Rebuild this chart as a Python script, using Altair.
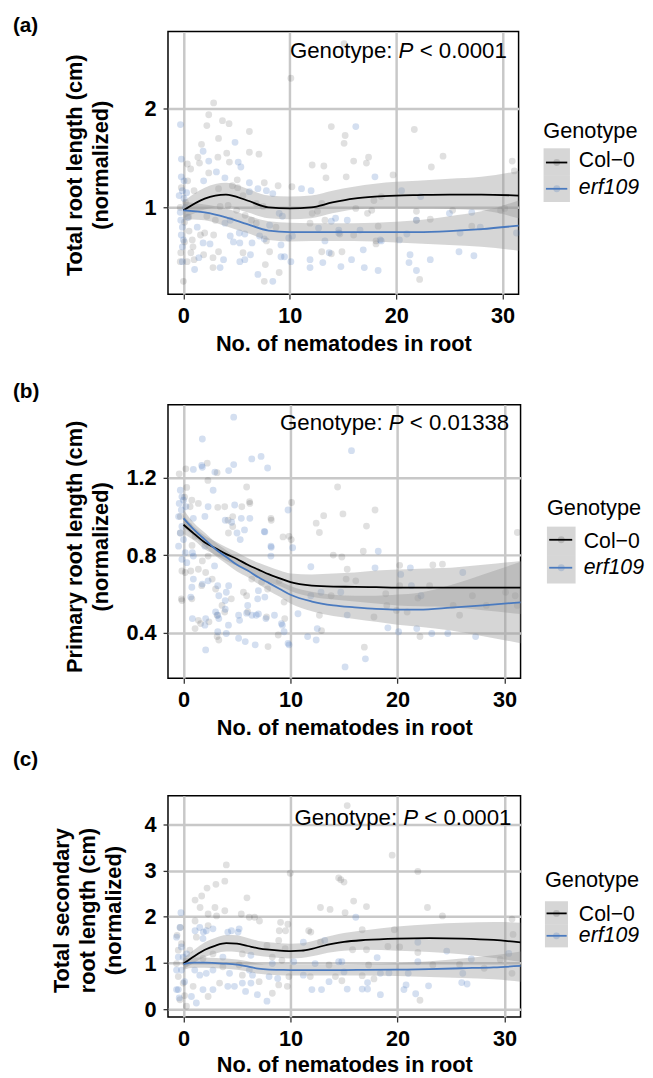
import altair as alt
import pandas as pd

FONT = "Liberation Sans"
BLACK = "#000000"
BLUE = "#4a7abf"
BAND = "#999999"

GENOTYPES = ["Col\u22120", "erf109"]
X_TICKS = [0, 10, 20, 30]
X_TITLE = "No. of nematodes in root"

# ---------------- Panel (a) : total root length ----------------
a_col0_pts = [(10.1,2.31),(2.84,2.06),(2.38,1.94),(3.67,1.88),(4.29,1.85),(2.2,1.83),(15.1,2.66),(13.9,1.82),(15.2,1.73),(15.1,1.65),(21.7,1.79),(24.4,1.52),(23.3,1.41),(17.4,1.51),(17.2,1.45),(16.0,1.47),(12.1,1.43),(13.2,1.42),(13.4,1.30),(15.3,1.31),(19.7,1.33),(30.9,1.47),(31.1,1.37),(21.9,0.87),(23.2,0.88),(29.8,0.97),(14.9,0.55),(13.9,0.53),(22.2,0.27),(18.1,0.66),(18.3,0.81),(3.3,1.70),(6.2,1.77),(1.7,1.64),(1.36,1.51),(1.51,1.45),(3.24,1.51),(4.07,1.55),(4.32,1.46),(6.2,1.56),(7.1,1.54),(0.37,1.44),(0.68,1.39),(2.38,1.35),(5.06,1.28),(7.6,1.25),(8.9,1.22),(10.2,1.21),(1.0,1.17),(0.53,0.76),(1.6,0.72),(2.0,0.74),(0.83,0.67),(0.9,0.6),(2.84,0.72),(7.8,0.66),(-0.25,0.54),(-0.3,0.45),(0.7,0.54),(0.35,0.45),(1.0,0.47),(1.9,0.52),(2.78,0.49),(3.3,0.55),(2.78,0.39),(5.6,0.54),(7.7,0.42),(7.6,0.25),(8.1,0.55),(9.0,0.34),(0.0,0.25),(13.0,0.55),(3.3,1.19),(4.6,1.22),(5.1,1.2),(5.6,1.12),(3.45,1.01),(4.2,1.02),(5.0,0.97),(2.2,0.91),(3.0,0.87),(5.8,0.92),(6.4,0.87),(6.85,0.84),(8.7,0.8),(12.1,0.94),(12.6,0.96),(13.0,1.04),(11.9,0.84),(13.3,0.87),(14.7,0.73),(17.9,1.07),(18.6,1.11),(16.2,0.99),(17.7,0.97),(21.9,0.96),(25.3,0.97),(30.2,0.99),(16.0,0.72),(17.3,0.94),(18.1,0.63),(27.1,0.81),(6.85,1.04),(7.5,1.01),(0.2,1.05),(-0.3,1.0),(0.5,0.9),(0.1,0.85),(-0.2,1.2),(0.4,1.27),(0.1,0.65)]
a_erf_pts = [(-0.28,1.84),(16.2,1.82),(18.0,1.31),(11.1,1.19),(12.0,1.17),(20.5,1.17),(22.3,1.11),(15.4,0.87),(13.9,0.86),(25.0,0.94),(27.1,0.95),(16.9,0.57),(13.1,0.44),(11.9,0.47),(11.9,0.39),(14.8,0.40),(15.8,0.47),(17.0,0.39),(18.3,0.36),(21.3,0.52),(21.2,0.44),(21.9,0.36),(23.2,0.47),(25.9,0.55),(27.3,0.51),(18.5,0.67),(20.3,0.67),(31.3,0.74),(4.85,1.66),(1.85,1.57),(2.38,1.47),(5.15,1.46),(5.4,1.41),(-0.19,1.49),(-0.2,1.31),(0.06,1.27),(3.1,1.36),(3.9,1.30),(6.2,1.25),(1.9,1.27),(-0.1,1.17),(-0.4,1.12),(0.06,1.09),(-0.25,0.87),(-0.1,0.8),(1.3,0.8),(0.0,0.67),(-0.1,0.6),(1.85,0.64),(2.5,0.63),(4.4,0.71),(4.7,0.65),(5.3,0.64),(5.25,0.74),(5.77,0.73),(6.45,0.64),(7.16,0.71),(7.6,0.68),(9.17,0.62),(-0.1,0.45),(1.45,0.49),(1.05,0.37),(3.45,0.39),(3.77,0.47),(5.3,0.45),(5.77,0.47),(6.3,0.52),(7.0,0.32),(8.4,0.25),(9.17,0.5),(9.5,0.5),(10.1,0.45),(13.7,0.54),(14.6,0.74),(13.3,0.66),(6.2,1.16),(7.0,1.19),(7.8,1.17),(8.4,1.14),(9.0,0.94),(9.3,0.91),(3.9,0.84),(4.4,0.87),(8.1,0.82),(9.9,0.69),(10.25,0.71),(12.7,0.79),(14.3,0.89),(21.9,0.87),(14.6,0.77),(16.6,0.77),(18.6,0.66),(21.0,0.73),(26.0,0.74),(27.9,0.80),(0.2,1.0),(-0.3,0.95),(0.3,1.15),(-0.2,0.72),(0.4,0.9)]
a_fit_x    = [0, 2, 4, 6, 8, 10, 12, 14, 16, 18, 20, 22, 25, 28, 31.5]
a_col0_fit = [0.97, 1.09, 1.13, 1.07, 1.00, 0.99, 1.00, 1.05, 1.09, 1.11, 1.12, 1.125, 1.13, 1.13, 1.12]
a_col0_lo  = [0.89, 0.98, 1.01, 0.95, 0.89, 0.88, 0.89, 0.94, 0.98, 0.99, 0.99, 0.99, 0.985, 0.97, 0.89]
a_col0_hi  = [1.06, 1.20, 1.25, 1.19, 1.12, 1.11, 1.12, 1.17, 1.21, 1.24, 1.26, 1.27, 1.29, 1.31, 1.37]
a_erf_fit  = [0.97, 0.95, 0.90, 0.83, 0.765, 0.75, 0.75, 0.75, 0.75, 0.75, 0.75, 0.75, 0.76, 0.78, 0.815]
a_erf_lo   = [0.88, 0.87, 0.81, 0.74, 0.67, 0.655, 0.66, 0.66, 0.66, 0.655, 0.645, 0.635, 0.62, 0.60, 0.56]
a_erf_hi   = [1.06, 1.03, 0.99, 0.92, 0.86, 0.845, 0.84, 0.84, 0.84, 0.845, 0.855, 0.87, 0.91, 0.96, 1.07]

# ---------------- Panel (b) : primary root length ----------------
b_col0_pts = [(2.22,1.275),(-0.4,1.22),(0.22,1.246),(3.14,1.226),(2.28,1.186),(5.9,1.152),(10.1,1.072),(8.2,0.98),(9.3,0.894),(10.07,0.88),(4.2,0.914),(6.2,1.067),(5.45,1.05),(1.76,0.77),(-0.15,0.718),(0.68,0.718),(-0.15,0.565),(1.6,0.446),(2.38,0.455),(3.14,0.489),(3.14,0.379),(3.3,0.361),(7.9,0.327),(7.76,0.48),(9.46,0.472),(8.85,0.387),(5.6,0.608),(5.9,0.59),(3.0,0.625),(3.6,0.54),(2.07,0.71),(2.68,0.676),(6.38,0.676),(7.3,0.66),(14.4,1.152),(13.1,1.004),(12.4,0.965),(12.7,0.917),(14.9,1.013),(17.9,1.033),(17.1,0.95),(14.0,0.80),(14.8,0.79),(16.8,0.82),(20.2,0.747),(23.3,0.749),(24.2,0.753),(31.2,0.917),(12.7,0.489),(12.9,0.41),(16.9,0.324),(22.1,0.379),(19.0,0.54),(19.9,0.514),(20.9,0.506),(17.8,0.48),(13.8,0.59),(15.3,0.727),(16.1,0.667),(15.2,0.676),(18.9,0.60),(21.9,0.578),(23.0,0.642),(25.2,0.54),(25.8,0.489),(27.0,0.59),(28.3,0.54),(30.1,0.608),(31.0,0.59),(31.2,0.54),(20.2,0.642),(0.78,1.084),(0.62,1.05),(-0.3,0.914),(0.16,0.71),(-0.2,0.574),(0.78,0.574),(3.85,1.05),(4.6,0.999),(1.39,1.067),(3.2,1.047),(4.16,0.98),(8.17,0.99),(6.17,1.076),(4.6,0.948),(9.86,0.897),(1.08,0.897),(2.3,0.795),(1.7,0.642),(4.47,0.574),(7.86,0.625),(8.94,0.667),(9.4,0.557),(1.39,0.463),(3.85,0.506),(1.08,0.42),(6.0,0.506),(1.39,0.727),(0.3,1.15),(-0.3,1.0),(0.5,0.95),(0.1,1.1),(0.8,0.85)]
b_erf_pts = [(4.69,1.513),(1.76,1.40),(6.38,1.297),(7.25,1.31),(4.69,1.268),(7.86,1.25),(4.22,1.237),(1.76,1.254),(0.92,1.243),(9.77,1.033),(7.6,0.92),(10.2,0.838),(8.2,0.84),(5.0,0.914),(5.3,0.88),(3.9,0.98),(4.5,0.97),(0.83,0.812),(0.68,0.583),(0.83,0.472),(2.07,0.472),(2.07,0.31),(3.0,0.506),(3.3,0.472),(5.15,0.37),(5.77,0.353),(6.7,0.336),(4.2,0.438),(3.9,0.52),(5.15,0.489),(5.9,0.50),(6.4,0.489),(7.0,0.496),(8.5,0.489),(9.15,0.446),(9.77,0.344),(7.6,0.583),(7.0,0.616),(4.22,0.642),(3.3,0.59),(3.9,0.565),(1.76,0.65),(15.7,1.34),(18.2,0.82),(17.9,0.734),(11.9,0.74),(21.2,0.734),(26.1,0.71),(20.3,0.70),(10.7,0.497),(12.5,0.42),(11.6,0.379),(12.4,0.361),(17.0,0.264),(15.1,0.222),(19.1,0.424),(20.1,0.404),(21.8,0.42),(23.2,0.395),(24.7,0.395),(27.3,0.379),(15.3,0.49),(14.7,0.608),(12.85,0.608),(11.9,0.59),(22.2,0.59),(21.3,0.642),(-0.3,1.135),(-0.15,1.101),(-0.4,1.067),(0.0,1.084),(-0.2,1.033),(0.22,1.05),(-0.46,0.999),(-0.15,0.948),(-0.3,0.914),(0.0,0.88),(-0.46,0.846),(0.16,0.812),(-0.15,0.778),(0.31,0.761),(1.7,1.263),(2.93,1.229),(2.77,1.135),(4.78,1.059),(2.3,1.05),(0.92,0.99),(2.0,1.0),(5.4,0.99),(6.2,0.99),(7.55,0.922),(5.7,0.93),(8.17,0.846),(2.0,0.846),(0.92,0.795),(2.9,0.744),(0.92,0.676),(0.78,0.634),(2.3,0.667),(3.2,0.642),(4.0,0.608),(6.93,0.574),(6.0,0.54),(3.2,0.489),(2.0,0.438),(3.2,0.404),(6.8,0.489),(5.24,0.463),(7.7,0.472),(9.24,0.438),(9.4,0.404),(4.0,0.395),(9.86,0.336),(8.17,0.795)]
b_fit_x    = [0, 1, 2, 3, 4, 5, 6, 7, 8, 9, 10, 12, 14, 16, 18, 20, 22, 25, 28, 31.5]
b_col0_fit = [0.957, 0.91, 0.865, 0.835, 0.805, 0.78, 0.75, 0.725, 0.70, 0.68, 0.66, 0.642, 0.637, 0.636, 0.634, 0.632, 0.632, 0.632, 0.632, 0.632]
b_col0_lo  = [0.91, 0.875, 0.83, 0.80, 0.77, 0.745, 0.715, 0.69, 0.66, 0.64, 0.615, 0.585, 0.57, 0.56, 0.55, 0.54, 0.535, 0.53, 0.515, 0.495]
b_col0_hi  = [1.005, 0.945, 0.90, 0.87, 0.84, 0.815, 0.785, 0.76, 0.74, 0.72, 0.705, 0.70, 0.705, 0.71, 0.72, 0.725, 0.73, 0.735, 0.75, 0.77]
b_erf_fit  = [0.99, 0.93, 0.88, 0.83, 0.79, 0.75, 0.72, 0.685, 0.655, 0.625, 0.595, 0.56, 0.54, 0.53, 0.522, 0.518, 0.518, 0.528, 0.54, 0.556]
b_erf_lo   = [0.945, 0.895, 0.845, 0.795, 0.755, 0.715, 0.685, 0.65, 0.615, 0.585, 0.55, 0.51, 0.485, 0.47, 0.455, 0.44, 0.43, 0.41, 0.38, 0.345]
b_erf_hi   = [1.035, 0.965, 0.915, 0.865, 0.825, 0.785, 0.755, 0.72, 0.695, 0.665, 0.64, 0.61, 0.595, 0.59, 0.59, 0.596, 0.606, 0.646, 0.70, 0.765]

# ---------------- Panel (c) : total secondary root length ----------------
c_col0_pts = [(4.0,3.12),(3.86,2.77),(3.03,2.70),(2.2,2.62),(1.7,2.45),(1.08,2.36),(5.93,2.41),(9.97,2.94),(1.55,2.2),(2.94,2.2),(3.86,2.13),(2.3,2.06),(3.09,2.02),(6.64,1.99),(7.1,1.91),(1.08,1.91),(2.3,1.81),(-0.3,1.77),(8.95,1.70),(9.75,1.84),(5.4,2.06),(6.15,1.99),(9.07,1.88),(9.54,1.70),(8.9,1.49),(11.7,1.70),(12.8,1.45),(14.5,2.84),(12.8,2.2),(13.7,2.16),(1.2,1.56),(0.59,1.28),(0.9,0.5),(2.3,0.28),(3.37,0.57),(7.07,0.6),(8.3,0.35),(8.9,0.53),(9.7,0.5),(5.5,0.74),(9.85,0.71),(14.2,0.71),(11.85,0.71),(1.82,1.1),(2.75,1.2),(5.5,1.2),(7.8,1.38),(9.5,1.31),(3.68,0.92),(5.2,0.96),(8.3,1.13),(9.2,1.06),(13.6,0.96),(19.5,3.33),(21.9,2.98),(14.7,2.80),(15.0,2.75),(15.9,2.34),(17.1,2.22),(15.1,2.09),(22.8,2.2),(24.2,2.02),(16.7,1.72),(19.7,1.72),(15.8,1.29),(17.1,1.29),(19.1,1.36),(20.2,1.35),(21.9,1.23),(17.3,0.96),(23.3,0.96),(25.8,0.97),(28.1,0.89),(29.6,1.08),(30.8,1.62),(30.7,0.78),(22.1,0.2),(14.8,0.62),(16.7,0.73),(17.8,0.66),(15.3,4.40),(11.9,1.67),(30.7,1.95),(-0.49,1.28),(-0.19,1.42),(-0.65,0.99),(-0.49,0.71),(-0.03,0.57),(-0.33,0.21),(0.28,0.07),(-0.6,1.6),(0.2,1.0),(0.1,0.3)]
c_erf_pts = [(-0.24,2.09),(1.08,1.70),(1.86,1.67),(4.48,1.70),(5.1,1.67),(13.2,1.49),(1.52,1.77),(2.13,1.70),(2.75,1.74),(1.82,1.53),(4.14,1.67),(5.2,1.74),(1.05,0.85),(1.52,0.74),(1.82,0.43),(0.74,0.28),(1.2,0.14),(2.75,0.43),(2.13,0.78),(4.14,0.5),(4.76,0.5),(5.5,0.57),(5.8,0.39),(6.3,0.57),(6.9,0.32),(7.8,0.18),(6.45,0.74),(8.0,0.71),(8.8,0.67),(12.0,0.43),(12.9,0.43),(13.6,0.6),(11.2,0.74),(3.68,1.13),(6.3,1.17),(8.3,0.99),(11.2,1.45),(2.75,0.85),(4.3,0.78),(6.15,0.85),(10.3,1.03),(12.3,0.99),(14.5,1.03),(16.1,1.99),(21.9,1.45),(24.6,1.26),(14.8,1.03),(15.0,0.81),(18.1,1.12),(18.4,0.78),(19.2,0.79),(21.0,0.78),(21.9,1.03),(26.9,1.09),(30.4,1.21),(26.1,0.78),(26.0,0.58),(26.5,0.55),(17.2,0.58),(16.7,0.44),(17.2,0.44),(15.3,0.44),(18.4,0.32),(20.8,0.53),(20.6,0.43),(21.7,0.34),(22.9,0.51),(-0.33,1.77),(-0.65,1.56),(-0.49,1.13),(-0.65,0.85),(-0.19,0.85),(-0.03,1.13),(-0.49,0.43),(-0.65,0.43),(0.3,1.2),(0.1,0.6),(-0.2,1.35),(-0.4,0.25)]
c_fit_x    = [0, 1, 2, 3, 4, 5, 6, 7, 8, 9, 10, 11, 12, 13, 14, 15, 17, 20, 23, 26, 29, 31.5]
c_col0_fit = [0.99, 1.15, 1.29, 1.38, 1.43, 1.42, 1.37, 1.32, 1.29, 1.27, 1.26, 1.27, 1.31, 1.37, 1.42, 1.46, 1.50, 1.53, 1.54, 1.53, 1.50, 1.45]
c_col0_lo  = [0.87, 1.01, 1.13, 1.21, 1.25, 1.24, 1.20, 1.16, 1.13, 1.11, 1.10, 1.11, 1.15, 1.20, 1.24, 1.27, 1.29, 1.27, 1.24, 1.19, 1.11, 1.03]
c_col0_hi  = [1.11, 1.29, 1.45, 1.55, 1.61, 1.60, 1.54, 1.48, 1.45, 1.43, 1.42, 1.43, 1.47, 1.54, 1.60, 1.65, 1.71, 1.79, 1.84, 1.87, 1.89, 1.87]
c_erf_fit  = [0.98, 1.01, 1.01, 1.00, 0.99, 0.97, 0.93, 0.88, 0.86, 0.855, 0.85, 0.85, 0.85, 0.85, 0.85, 0.85, 0.855, 0.86, 0.87, 0.89, 0.91, 0.94]
c_erf_lo   = [0.86, 0.90, 0.90, 0.89, 0.88, 0.86, 0.82, 0.77, 0.75, 0.74, 0.735, 0.735, 0.735, 0.735, 0.735, 0.735, 0.735, 0.72, 0.70, 0.68, 0.65, 0.60]
c_erf_hi   = [1.10, 1.12, 1.12, 1.11, 1.10, 1.08, 1.04, 0.99, 0.97, 0.97, 0.965, 0.965, 0.965, 0.965, 0.965, 0.965, 0.975, 1.00, 1.04, 1.10, 1.17, 1.25]

# ---------------- text ----------------
a_ytitle = ["Total root length (cm)", "(normalized)"]
b_ytitle = ["Primary root length (cm)", "(normalized)"]
c_ytitle = ["Total secondary", "root length (cm)", "(normalized)"]
a_pval, b_pval, c_pval = "0.0001", "0.01338", "0.0001"
a_yticks, b_yticks, c_yticks = [1, 2], [0.4, 0.8, 1.2], [0, 1, 2, 3, 4]

# Arial/Liberation Sans advance widths (em), used to lay the annotation pieces out
AW = {'G': .778, 'e': .556, 'n': .556, 'o': .556, 't': .278, 'y': .5, 'p': .556, ':': .278,
      ' ': .278, 'P': .667, '<': .584, '0': .556, '1': .556, '3': .556, '8': .556, '.': .278}


def tw(s, fs):
    return sum(AW.get(ch, 0.556) for ch in s) * fs


def txt(s, x, y, size, align="left", weight="normal", style="normal", base="alphabetic"):
    return alt.Chart(pd.DataFrame({"t": [s]})).mark_text(
        align=align, baseline=base, font=FONT, fontSize=size, fontWeight=weight,
        fontStyle=style, color="black"
    ).encode(x=alt.value(x), y=alt.value(y), text="t:N")


def panel(label, ytitle, ydom, yticks, yfmt, pval, col_pts, erf_pts,
          fx, cfit, clo, chi, efit, elo, ehi, g):
    W, H = g["W"], g["H"]
    xs = alt.Scale(domain=[-1.45, 31.5], nice=False, zero=False)
    ys = alt.Scale(domain=ydom, nice=False, zero=False)
    xax = alt.Axis(values=X_TICKS, title=X_TITLE, titleY=g["xty"], titleBaseline="alphabetic",
                   labelFlush=False, format="d")
    yax = alt.Axis(values=yticks, title=ytitle, titleX=g["ytx"], titleY=g["yty"],
                   titleAngle=270, titleBaseline="bottom", titleAlign="center",
                   labelFlush=False, format=yfmt)

    def X(f="x"):
        return alt.X(f"{f}:Q", scale=xs, axis=xax)

    def Y(f="y"):
        return alt.Y(f"{f}:Q", scale=ys, axis=yax)

    pc = pd.DataFrame(col_pts, columns=["x", "y"])
    pe = pd.DataFrame(erf_pts, columns=["x", "y"])
    fc = pd.DataFrame({"x": fx, "fit": cfit, "lo": clo, "hi": chi})
    fe = pd.DataFrame({"x": fx, "fit": efit, "lo": elo, "hi": ehi})

    layers = [
        alt.Chart(pc).mark_circle(size=48, color=BLACK, opacity=0.12).encode(x=X(), y=Y()),
        alt.Chart(pe).mark_circle(size=48, color=BLUE, opacity=0.24).encode(x=X(), y=Y()),
        alt.Chart(fc).mark_area(color=BAND, opacity=0.4, interpolate="monotone").encode(
            x=X(), y=Y("lo"), y2="hi:Q"),
        alt.Chart(fe).mark_area(color=BAND, opacity=0.4, interpolate="monotone").encode(
            x=X(), y=Y("lo"), y2="hi:Q"),
        alt.Chart(fc).mark_line(color=BLACK, strokeWidth=1.8, interpolate="monotone").encode(
            x=X(), y=Y("fit")),
        alt.Chart(fe).mark_line(color=BLUE, strokeWidth=1.8, interpolate="monotone").encode(
            x=X(), y=Y("fit")),
    ]

    # annotation "Genotype: P < value"
    fs = 22.5
    rest = " < " + pval
    xr = g["axr"]
    layers += [
        txt(rest, xr, g["ay"], fs, align="right"),
        txt("P", xr - tw(rest, fs), g["ay"], fs, align="right", style="italic"),
        txt("Genotype:", xr - tw(rest, fs) - tw("P", fs) - tw(" ", fs), g["ay"], fs, align="right"),
    ]
    # panel label (top baseline keeps its bounds tight)
    layers.append(txt(label, -157, g["ly"], 21, weight="bold", base="top"))

    # legend
    L = g["leg"]
    layers.append(txt("Genotype", L["x"], L["ty"], 22))
    for i, (name, col, op) in enumerate([(GENOTYPES[0], BLACK, 0.14), (GENOTYPES[1], BLUE, 0.25)]):
        one = pd.DataFrame({"k": [name]})
        y0, y1 = L["ry"][i], L["ry"][i + 1]
        ym = L["ly"][i]
        layers += [
            alt.Chart(one).mark_rect(color=BAND, opacity=0.4).encode(
                x=alt.value(L["rx"]), x2=alt.value(L["rx"] + L["rw"]),
                y=alt.value(y0), y2=alt.value(y1)),
            alt.Chart(one).mark_circle(size=48, color=col, opacity=op).encode(
                x=alt.value(L["rx"] + L["rw"] / 2), y=alt.value(ym)),
            alt.Chart(one).mark_rule(color=col, strokeWidth=1.8).encode(
                x=alt.value(L["lx"][0]), x2=alt.value(L["lx"][1]), y=alt.value(ym)),
            txt(name, L["tx"], L["tb"][i], 21.5, style="italic" if i == 1 else "normal"),
        ]

    # invisible extent markers (control vertical stacking)
    one = pd.DataFrame({"k": [0]})
    layers.append(alt.Chart(one).mark_rule(opacity=0).encode(
        x=alt.value(0), x2=alt.value(1), y=alt.value(-g["T"])))
    if g.get("B"):
        layers.append(alt.Chart(one).mark_rule(opacity=0).encode(
            x=alt.value(0), x2=alt.value(1), y=alt.value(H + g["B"])))

    return alt.layer(*layers).properties(width=W, height=H)


geo_a = dict(W=355, H=266, T=16, B=66, ly=-16, ay=27, axr=343, ytx=-83, yty=135, xty=57,
             leg=dict(x=380, ty=108, rx=380.3, rw=26.7, ry=[118.3, 145.5, 172.7],
                      lx=[382.7, 404.3], ly=[132.7, 159.3], tx=416, tb=[137.7, 164.3]))
geo_b = dict(W=357, H=277, T=43.3, B=64, ly=-24.3, ay=26, axr=345.5, ytx=-83, yty=143.4, xty=57,
             leg=dict(x=383.7, ty=111.7, rx=383.7, rw=29, ry=[123.4, 152.2, 181],
                      lx=[386, 409.3], ly=[136.7, 165], tx=421, tb=[145, 171.7]))
geo_c = dict(W=357, H=224, T=52.6, B=None, ly=-47.6, ay=29, axr=347.7, ytx=-96, yty=115.7, xty=55.6,
             leg=dict(x=381.7, ty=92.4, rx=381.7, rw=23.3, ry=[106.7, 130, 153.4],
                      lx=[383.3, 403.7], ly=[119, 141.7], tx=416, tb=[126.7, 148.4]))

pa = panel("(a)", a_ytitle, [0.12, 2.785], a_yticks, "d", a_pval, a_col0_pts, a_erf_pts,
           a_fit_x, a_col0_fit, a_col0_lo, a_col0_hi, a_erf_fit, a_erf_lo, a_erf_hi, geo_a)
pb = panel("(b)", b_ytitle, [0.163, 1.577], b_yticks, ".1f", b_pval, b_col0_pts, b_erf_pts,
           b_fit_x, b_col0_fit, b_col0_lo, b_col0_hi, b_erf_fit, b_erf_lo, b_erf_hi, geo_b)
pc = panel("(c)", c_ytitle, [-0.164, 4.61], c_yticks, "d", c_pval, c_col0_pts, c_erf_pts,
           c_fit_x, c_col0_fit, c_col0_lo, c_col0_hi, c_erf_fit, c_erf_lo, c_erf_hi, geo_c)

chart = alt.vconcat(pa, pb, pc, spacing=0).properties(
    padding={"left": 4, "top": 0, "right": 0, "bottom": 0}
).configure_view(
    stroke="black", strokeWidth=1.5
).configure_axis(
    grid=True, gridColor="#c8c8c8", gridWidth=2.5, domain=False,
    tickColor="#333333", tickSize=5, tickWidth=1.3,
    labelFont=FONT, labelFontSize=22, labelFontWeight="bold", labelColor="black", labelPadding=7,
    titleFont=FONT, titleFontSize=22, titleFontWeight="bold", titleColor="black",
    titleLineHeight=26.7
).configure_concat(spacing=0)

chart.save("out.html", embed_options={"renderer": "svg", "actions": False})
